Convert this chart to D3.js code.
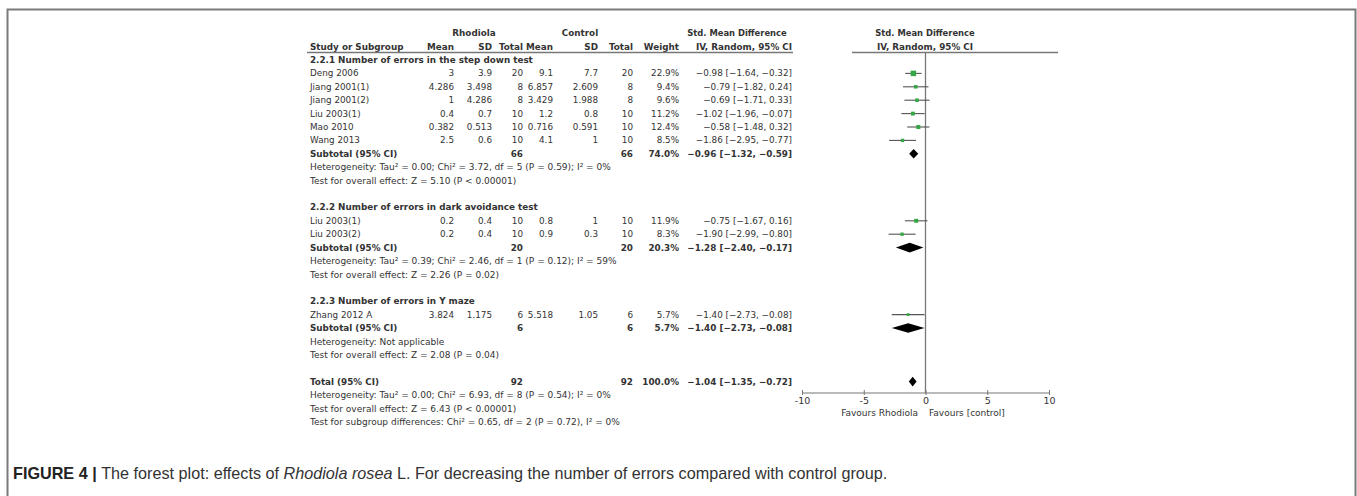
<!DOCTYPE html>
<html>
<head>
<meta charset="utf-8">
<script src="https://cdn.jsdelivr.net/npm/d3@7"></script>
<style>
  body { margin:0; background:#fff; }
  svg text { font-family: "DejaVu Sans", sans-serif; fill:#333; }
</style>
</head>
<body>
<div id="chart-container"></div>
<script>
// forest plot data

const studies = ["Deng 2006","Jiang 2001(1)","Jiang 2001(2)","Liu 2003(1)","Mao 2010","Wang 2013",
                 "Liu 2003(1)","Liu 2003(2)","Zhang 2012 A"];
const studyRow = [1,2,3,4,5,6, 12,13, 19];
const rhoMean = ["3","4.286","1","0.4","0.382","2.5","0.2","0.2","3.824"];
const rhoSD = ["3.9","3.498","4.286","0.7","0.513","0.6","0.4","0.4","1.175"];
const rhoN = [20,8,8,10,10,10,10,10,6];
const conMean = ["9.1","6.857","3.429","1.2","0.716","4.1","0.8","0.9","5.518"];
const conSD = ["7.7","2.609","1.988","0.8","0.591","1","1","0.3","1.05"];
const conN = [20,8,8,10,10,10,10,10,6];
const weight = [22.9,9.4,9.6,11.2,12.4,8.5,11.9,8.3,5.7];
const smd = [-0.98,-0.79,-0.69,-1.02,-0.58,-1.86,-0.75,-1.90,-1.40];
const ciLo = [-1.64,-1.82,-1.71,-1.96,-1.48,-2.95,-1.67,-2.99,-2.73];
const ciHi = [-0.32,0.24,0.33,-0.07,0.32,-0.77,0.16,-0.80,-0.08];

const groupTitles = ["2.2.1 Number of errors in the step down test",
                     "2.2.2 Number of errors in dark avoidance test",
                     "2.2.3 Number of errors in Y maze"];
const groupRow = [0, 11, 18];

const pooledLabel = ["Subtotal (95% CI)","Subtotal (95% CI)","Subtotal (95% CI)","Total (95% CI)"];
const pooledRow = [7, 14, 20, 24];
const pooledN = [66, 20, 6, 92];
const pooledWeight = ["74.0%","20.3%","5.7%","100.0%"];
const pooledEst = [-0.96,-1.28,-1.40,-1.04];
const pooledLo = [-1.32,-2.40,-2.73,-1.35];
const pooledHi = [-0.59,-0.17,-0.08,-0.72];

const noteRow = [8,9, 15,16, 21,22, 25,26,27];
const notes = [
  "Heterogeneity: Tau² = 0.00; Chi² = 3.72, df = 5 (P = 0.59); I² = 0%",
  "Test for overall effect: Z = 5.10 (P < 0.00001)",
  "Heterogeneity: Tau² = 0.39; Chi² = 2.46, df = 1 (P = 0.12); I² = 59%",
  "Test for overall effect: Z = 2.26 (P = 0.02)",
  "Heterogeneity: Not applicable",
  "Test for overall effect: Z = 2.08 (P = 0.04)",
  "Heterogeneity: Tau² = 0.00; Chi² = 6.93, df = 8 (P = 0.54); I² = 0%",
  "Test for overall effect: Z = 6.43 (P < 0.00001)",
  "Test for subgroup differences: Chi² = 0.65, df = 2 (P = 0.72), I² = 0%"
];

const xTicks = [-10,-5,0,5,10];

const width = 1357, height = 496;

const svg = d3.select("#chart-container")
  .append("svg")
  .attr("width", width)
  .attr("height", height);

// outer frame (bottom edge falls outside the picture)
svg.append("path")
  .attr("d", "M7.5,500 V9.5 H1355.5 V500")
  .attr("fill", "none")
  .attr("stroke", "#7a7a7a")
  .attr("stroke-width", 2);

// row scale
const y = d3.scaleLinear().domain([0, 27]).range([60, 421.8]);
// forest x scale
const x = d3.scaleLinear().domain([-10, 10]).range([802, 1049]);

const fs = 8.8;
const fmt2 = d3.format(".2f");
const ciText = (e, l, h) => `${fmt2(e).replace("-", "−")} [${fmt2(l).replace("-", "−")}, ${fmt2(h).replace("-", "−")}]`;

// columns (right edges)
const col = {name:310, rm:454, rs:492, rn:523, cm:553, cs:598, cn:633, w:679, ci:792};

function txt(xp, yp, s, anchor, bold, size) {
  return svg.append("text")
    .attr("x", xp).attr("y", yp)
    .attr("dy", "0.35em")
    .attr("text-anchor", anchor || "start")
    .style("font-size", (size || fs) + "px")
    .style("font-weight", bold ? "bold" : "normal")
    .text(s);
}

// headers
txt(474, 33, "Rhodiola", "middle", true);
txt(580, 33, "Control", "middle", true);
txt(737, 33, "Std. Mean Difference", "middle", true, 8.4);
txt(925, 33, "Std. Mean Difference", "middle", true, 8.4);
txt(col.name, 46.5, "Study or Subgroup", "start", true);
txt(col.rm, 46.5, "Mean", "end", true);
txt(col.rs, 46.5, "SD", "end", true);
txt(col.rn, 46.5, "Total", "end", true);
txt(col.cm, 46.5, "Mean", "end", true);
txt(col.cs, 46.5, "SD", "end", true);
txt(col.cn, 46.5, "Total", "end", true);
txt(col.w, 46.5, "Weight", "end", true);
txt(col.ci, 46.5, "IV, Random, 95% CI", "end", true);
txt(925, 46.5, "IV, Random, 95% CI", "middle", true);

svg.append("line").attr("x1", 307).attr("x2", 793).attr("y1", 52.5).attr("y2", 52.5)
  .attr("stroke", "#777").attr("stroke-width", 1.5);
svg.append("line").attr("x1", 852).attr("x2", 1058).attr("y1", 52.5).attr("y2", 52.5)
  .attr("stroke", "#777").attr("stroke-width", 1.5);

// group headings
groupTitles.forEach((t, i) => txt(col.name, y(groupRow[i]), t, "start", true));

// study rows
studies.forEach((s, i) => {
  const yy = y(studyRow[i]);
  txt(col.name, yy, s);
  txt(col.rm, yy, rhoMean[i], "end");
  txt(col.rs, yy, rhoSD[i], "end");
  txt(col.rn, yy, rhoN[i], "end");
  txt(col.cm, yy, conMean[i], "end");
  txt(col.cs, yy, conSD[i], "end");
  txt(col.cn, yy, conN[i], "end");
  txt(col.w, yy, weight[i].toFixed(1) + "%", "end");
  txt(col.ci, yy, ciText(smd[i], ciLo[i], ciHi[i]), "end");
});

// pooled rows
pooledLabel.forEach((s, i) => {
  const yy = y(pooledRow[i]);
  txt(col.name, yy, s, "start", true);
  txt(col.rn, yy, pooledN[i], "end", true);
  txt(col.cn, yy, pooledN[i], "end", true);
  txt(col.w, yy, pooledWeight[i], "end", true);
  txt(col.ci, yy, ciText(pooledEst[i], pooledLo[i], pooledHi[i]), "end", true);
});

// notes
notes.forEach((s, i) => txt(col.name, y(noteRow[i]), s, "start", false, 9));

// forest plot: zero line
const axisY = 393;
svg.append("line")
  .attr("x1", x(0)).attr("x2", x(0))
  .attr("y1", 52.5).attr("y2", axisY)
  .attr("stroke", "#777").attr("stroke-width", 1.3);

// CI lines and squares
const sq = d3.scaleSqrt().domain([0, 22.9]).range([0, 5.5]);
studies.forEach((s, i) => {
  const yy = y(studyRow[i]);
  svg.append("line")
    .attr("x1", x(ciLo[i])).attr("x2", x(ciHi[i]))
    .attr("y1", yy).attr("y2", yy)
    .attr("stroke", "#555").attr("stroke-width", 1.1);
  const s2 = Math.max(2.5, sq(weight[i]));
  svg.append("rect")
    .attr("x", x(smd[i]) - s2 / 2).attr("y", yy - s2 / 2)
    .attr("width", s2).attr("height", s2)
    .attr("fill", "#35a845");
});

// diamonds
pooledEst.forEach((e, i) => {
  const yy = y(pooledRow[i]);
  const h = 4.8;
  svg.append("path")
    .attr("d", `M${x(pooledLo[i])},${yy} L${x(e)},${yy - h} L${x(pooledHi[i])},${yy} L${x(e)},${yy + h} Z`)
    .attr("fill", "#000");
});

// x axis
const ax = svg.append("g")
  .attr("transform", `translate(0,${axisY})`)
  .call(d3.axisBottom(x).tickValues(xTicks).tickSize(-3).tickPadding(2)
    .tickFormat(d => d < 0 ? "-" + Math.abs(d) : d));
ax.select(".domain").attr("stroke", "#777").attr("stroke-width", 1.2).attr("d", `M${x(-10)},0H${x(10)}`);
ax.selectAll(".tick line").attr("stroke", "#777").attr("y2", 2).attr("y1", -3);
ax.selectAll(".tick text")
  .style("font-size", "9.5px")
  .style("font-family", "DejaVu Sans, sans-serif")
  .attr("fill", "#444")
  .attr("y", 4)
  .attr("dy", "0.71em");

txt(918, 413, "Favours Rhodiola", "end", false, 9);
txt(929, 413, "Favours [control]", "start", false, 9);

// caption
const cap = svg.append("text")
  .attr("x", 13).attr("y", 478.5)
  .style("font-family", "'Liberation Sans', sans-serif")
  .style("font-size", "16.2px");
cap.append("tspan")
  .style("font-family", "'Liberation Sans Narrow', 'Liberation Sans', sans-serif")
  .style("font-weight", "bold")
  .style("fill", "#222")
  .text("FIGURE 4 | ");
cap.append("tspan").style("fill", "#333").text("The forest plot: effects of ");
cap.append("tspan").style("font-style", "italic").style("fill", "#333").text("Rhodiola rosea");
cap.append("tspan").style("fill", "#333").text(" L. For decreasing the number of errors compared with control group.");
</script>
</body>
</html>
